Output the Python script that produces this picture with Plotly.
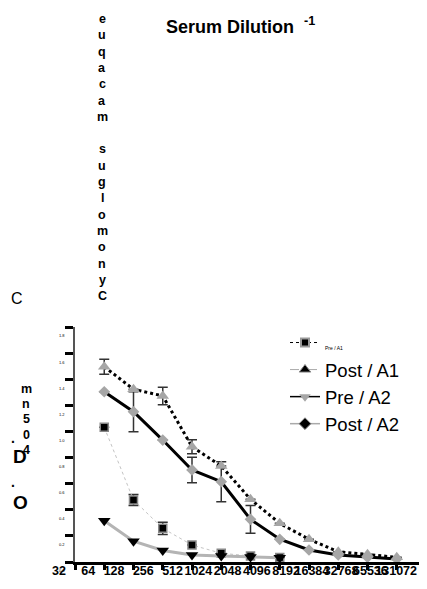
import math
import plotly.graph_objects as go

# ---------------- data ----------------
dilutions = [128, 256, 512, 1024, 2048, 4096, 8192, 16384, 32768, 65536, 131072]
pre_a1 = [1.032, 0.475, 0.258, 0.130, 0.067, 0.046, 0.034]
pre_a1_err = [0, 0.042, 0.047, 0, 0, 0, 0]
post_a1 = [1.496, 1.323, 1.272, 0.883, 0.735, 0.480, 0.296, 0.174, 0.079, 0.059, 0.036]
post_a1_err = [0.057, 0, 0.067, 0.054, 0, 0, 0, 0, 0, 0, 0]
pre_a2 = [0.316, 0.159, 0.088, 0.054, 0.046, 0.038, 0.033]
post_a2 = [1.304, 1.151, 0.934, 0.705, 0.615, 0.327, 0.174, 0.092, 0.054, 0.036, 0.023]
post_a2_err = [0, 0.153, 0, 0.098, 0.153, 0.106, 0, 0, 0, 0, 0]
series_names = ["Pre / A1", "Post / A1", "Pre / A2", "Post / A2"]
x_tick_labels = ["32", "64", "128", "256", "512", "1024", "2048", "4096",
                 "8192", "16384", "32768", "65536", "131072"]
x_tick_pos = [6, 7, 8, 9, 10, 11, 12, 13, 14, 15, 16, 17, 18]
y_tick_vals = [0.0, 0.2, 0.4, 0.6, 0.8, 1.0, 1.2, 1.4, 1.6, 1.8]
y_tick_labels = ["0.0", "0.2", "0.4", "0.6", "0.8", "1.0", "1.2", "1.4", "1.6", "1.8"]
title_text = "Serum Dilution"
species_text = "Cynomolgus macaque"
ytitle_small = "mn504"
panel_label = "C"

FONT = "Arial, Liberation Sans, sans-serif"
GRAY = "#a6a6a6"

xs = [math.log2(d) for d in dilutions]

# page offset (default body margin) and plot area in screen pixels
OFF = 8
L, R, T, B = 75, 426, 327, 562
W, H = 427 - OFF, 589 - OFF


def px_x(x):
    return (x - L) / (R - L)


def px_y(y):
    return (B - y) / (B - T)


def err(arr):
    return dict(type="data", array=arr, visible=True, color="#333333",
                thickness=1.5, width=5)


fig = go.Figure()

# ---- data traces ----
fig.add_trace(go.Scatter(
    x=xs[:len(pre_a1)], y=pre_a1, mode="lines+markers", showlegend=False,
    line=dict(color="#c4c4c4", width=1, dash="dot"),
    marker=dict(symbol="square", size=8, color="black",
                line=dict(color="#888888", width=1.5)),
    error_y=err(pre_a1_err)))
fig.add_trace(go.Scatter(
    x=xs[:len(pre_a2)], y=pre_a2, mode="lines+markers", showlegend=False,
    line=dict(color="#b4b4b4", width=3),
    marker=dict(symbol="triangle-down", size=11, color="black")))
fig.add_trace(go.Scatter(
    x=xs, y=post_a2, mode="lines+markers", showlegend=False,
    line=dict(color="black", width=3),
    marker=dict(symbol="diamond", size=9, color=GRAY),
    error_y=err(post_a2_err)))
fig.add_trace(go.Scatter(
    x=xs, y=post_a1, mode="lines+markers", showlegend=False,
    line=dict(color="black", width=3, dash="dot"),
    marker=dict(symbol="triangle-up", size=11, color=GRAY),
    error_y=err(post_a1_err)))

# ---- legend-only traces (legend glyphs as drawn in the reference) ----
legend_styles = [
    dict(line=dict(color="black", width=1, dash="dot"),
         marker=dict(symbol="square", size=8, color="black",
                     line=dict(color="#999999", width=2))),
    dict(line=dict(color="#aaaaaa", width=1, dash="dash"),
         marker=dict(symbol="triangle-up", size=10, color="black",
                     line=dict(color="#888888", width=1))),
    dict(line=dict(color="black", width=1.5),
         marker=dict(symbol="triangle-down", size=10, color=GRAY)),
    dict(line=dict(color="#aaaaaa", width=1.5),
         marker=dict(symbol="diamond", size=9, color="black",
                     line=dict(color="#777777", width=1))),
]
for i, (nm, st) in enumerate(zip(series_names, legend_styles)):
    label = nm if i > 0 else '<span style="font-size:5px">' + nm + "</span>"
    fig.add_trace(go.Scatter(x=[None], y=[None], mode="lines+markers",
                             name=label, **st))

annotations = []
# title
annotations.append(dict(
    text="<b>" + title_text + "  <sup>-1</sup></b>", x=px_x(240), y=px_y(25),
    xref="paper", yref="paper", xanchor="center", yanchor="middle",
    showarrow=False, font=dict(family=FONT, size=18, color="black")))
# stacked species text (reversed)
rev = species_text[::-1]
for i, ch in enumerate(rev):
    if ch == " ":
        continue
    annotations.append(dict(
        text="<b>" + ch + "</b>", x=px_x(102), y=px_y(19 + i * 16.3),
        xref="paper", yref="paper", xanchor="center", yanchor="middle",
        showarrow=False, font=dict(family=FONT, size=12.5, color="black")))
# panel label
annotations.append(dict(
    text=panel_label, x=px_x(17), y=px_y(298), xref="paper", yref="paper",
    xanchor="center", yanchor="middle", showarrow=False,
    font=dict(family=FONT, size=16, color="black")))
# stacked y-axis title pieces
for i, ch in enumerate(ytitle_small):
    annotations.append(dict(
        text="<b>" + ch + "</b>", x=px_x(26), y=px_y(389 + i * 15.2),
        xref="paper", yref="paper", xanchor="center", yanchor="middle",
        showarrow=False, font=dict(family=FONT, size=12.5, color="black")))
for ch, cx, cy, sz in [(".", 13, 438, 14), ("D", 20, 456, 19),
                       (".", 13, 482, 14), ("O", 20, 502, 19)]:
    annotations.append(dict(
        text="<b>" + ch + "</b>", x=px_x(cx), y=px_y(cy),
        xref="paper", yref="paper", xanchor="center", yanchor="middle",
        showarrow=False, font=dict(family=FONT, size=sz, color="black")))

fig.update_layout(
    width=W, height=H,
    margin=dict(l=L - OFF, r=(427 - R), t=T - OFF, b=589 - B, pad=0,
                autoexpand=False),
    paper_bgcolor="white", plot_bgcolor="white",
    font=dict(family=FONT, color="black"),
    showlegend=True,
    legend=dict(x=px_x(285), y=px_y(324), xanchor="left", yanchor="top",
                bgcolor="rgba(0,0,0,0)", font=dict(family=FONT, size=18.5),
                tracegroupgap=0, itemwidth=30),
    annotations=annotations,
)
fig.update_xaxes(
    range=[6, 18], tickvals=x_tick_pos, ticktext=x_tick_labels,
    automargin=False, tickangle=0,
    showgrid=False, zeroline=False, showline=True, linecolor="black",
    linewidth=3, ticks="outside", ticklen=5, tickwidth=3, tickcolor="black",
    ticklabelposition="outside left", ticklabelshift=-6, ticklabelstandoff=-5,
    tickfont=dict(family=FONT, size=12.5, color="black", weight="bold"))
fig.update_yaxes(
    range=[0, 1.8], tickvals=y_tick_vals, ticktext=y_tick_labels,
    automargin=False,
    showgrid=False, zeroline=False, showline=True, linecolor="#555555",
    linewidth=1.5, ticks="outside", ticklen=8, tickwidth=3, tickcolor="black",
    ticklabelshift=9, tickfont=dict(family=FONT, size=4, color="black"))

fig.write_html("out.html")
